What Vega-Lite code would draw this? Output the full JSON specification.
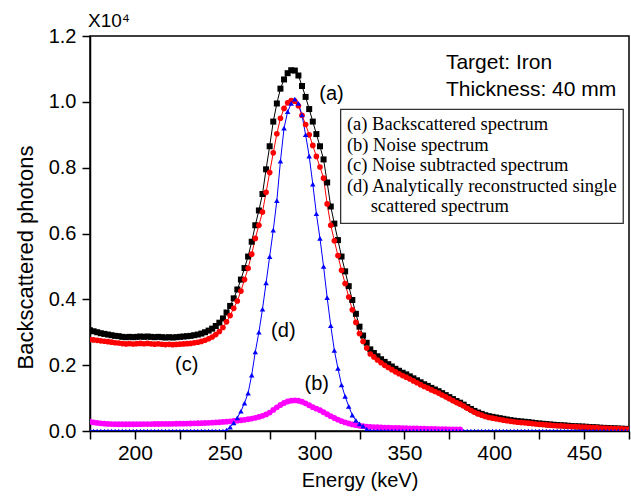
{
  "$schema": "https://vega.github.io/schema/vega-lite/v6.json",
  "width": 539,
  "height": 395,
  "autosize": {"type": "none"},
  "padding": {"left": 90, "top": 36, "right": 2, "bottom": 71},
  "background": "white",
  "config": {
    "view": {"stroke": "black", "strokeWidth": 1.5},
    "font": "Liberation Sans",
    "axis": {
      "grid": false,
      "domainColor": "black",
      "domainWidth": 1.5,
      "tickColor": "black",
      "tickWidth": 1.5,
      "tickSize": 8,
      "labelColor": "black",
      "titleColor": "black",
      "labelFont": "Liberation Sans",
      "titleFont": "Liberation Sans",
      "titleFontWeight": "normal",
      "labelFlush": false,
      "labelOverlap": false
    }
  },
  "title": {"text": "X10⁴", "anchor": "start", "frame": "group", "fontSize": 19, "fontWeight": "normal", "font": "Liberation Sans", "color": "black", "offset": -5, "dx": -2},
  "layer": [
    {
      "data": {"values": [
        {"E":175,"a":3060,"b":280,"c":2780,"d":0},
        {"E":177,"a":3030,"b":262,"c":2768,"d":0},
        {"E":179,"a":3000,"b":245,"c":2755,"d":0},
        {"E":181,"a":2970,"b":232,"c":2738,"d":0},
        {"E":183,"a":2950,"b":222,"c":2728,"d":0},
        {"E":185,"a":2930,"b":215,"c":2715,"d":0},
        {"E":187,"a":2910,"b":210,"c":2700,"d":0},
        {"E":189,"a":2890,"b":208,"c":2682,"d":0},
        {"E":191,"a":2880,"b":206,"c":2674,"d":0},
        {"E":193,"a":2860,"b":205,"c":2655,"d":0},
        {"E":195,"a":2850,"b":205,"c":2645,"d":0},
        {"E":197,"a":2860,"b":205,"c":2655,"d":0},
        {"E":199,"a":2850,"b":206,"c":2644,"d":0},
        {"E":201,"a":2860,"b":207,"c":2653,"d":0},
        {"E":203,"a":2870,"b":208,"c":2662,"d":0},
        {"E":205,"a":2860,"b":209,"c":2651,"d":0},
        {"E":207,"a":2870,"b":210,"c":2660,"d":0},
        {"E":209,"a":2860,"b":211,"c":2649,"d":0},
        {"E":211,"a":2850,"b":212,"c":2638,"d":0},
        {"E":213,"a":2860,"b":213,"c":2647,"d":0},
        {"E":215,"a":2850,"b":214,"c":2636,"d":0},
        {"E":217,"a":2840,"b":215,"c":2625,"d":0},
        {"E":219,"a":2850,"b":216,"c":2634,"d":0},
        {"E":221,"a":2840,"b":218,"c":2622,"d":0},
        {"E":223,"a":2850,"b":220,"c":2630,"d":0},
        {"E":225,"a":2860,"b":222,"c":2638,"d":0},
        {"E":227,"a":2870,"b":224,"c":2646,"d":0},
        {"E":229,"a":2880,"b":226,"c":2654,"d":0},
        {"E":231,"a":2890,"b":229,"c":2661,"d":0},
        {"E":233,"a":2910,"b":232,"c":2678,"d":0},
        {"E":235,"a":2930,"b":235,"c":2695,"d":0},
        {"E":237,"a":2960,"b":239,"c":2721,"d":0},
        {"E":239,"a":3000,"b":243,"c":2757,"d":0},
        {"E":241,"a":3050,"b":248,"c":2802,"d":0},
        {"E":243,"a":3110,"b":254,"c":2856,"d":0},
        {"E":245,"a":3190,"b":260,"c":2930,"d":0},
        {"E":247,"a":3290,"b":267,"c":3023,"d":0},
        {"E":249,"a":3420,"b":275,"c":3145,"d":0},
        {"E":251,"a":3600,"b":284,"c":3316,"d":30},
        {"E":253,"a":3800,"b":293,"c":3507,"d":120},
        {"E":255,"a":4030,"b":303,"c":3727,"d":250},
        {"E":257,"a":4300,"b":314,"c":3950,"d":400},
        {"E":259,"a":4600,"b":326,"c":4250,"d":600},
        {"E":261,"a":4950,"b":340,"c":4600,"d":850},
        {"E":263,"a":5300,"b":357,"c":4943,"d":1150},
        {"E":265,"a":5750,"b":377,"c":5373,"d":1700},
        {"E":267,"a":6250,"b":400,"c":5850,"d":2400},
        {"E":269,"a":6700,"b":428,"c":6250,"d":3000},
        {"E":271,"a":7200,"b":460,"c":6650,"d":3700},
        {"E":273,"a":7950,"b":505,"c":7250,"d":4500},
        {"E":275,"a":8650,"b":560,"c":7850,"d":5300},
        {"E":277,"a":9400,"b":640,"c":8450,"d":6100},
        {"E":279,"a":9950,"b":720,"c":9030,"d":7000},
        {"E":281,"a":10400,"b":790,"c":9500,"d":8200},
        {"E":283,"a":10680,"b":850,"c":9800,"d":9200},
        {"E":285,"a":10870,"b":895,"c":9970,"d":9700},
        {"E":287,"a":10960,"b":922,"c":10038,"d":9950},
        {"E":289,"a":10950,"b":930,"c":10020,"d":10080},
        {"E":291,"a":10800,"b":918,"c":9882,"d":9950},
        {"E":293,"a":10480,"b":888,"c":9592,"d":9600},
        {"E":295,"a":10150,"b":840,"c":9310,"d":9000},
        {"E":297,"a":9780,"b":782,"c":8998,"d":8350},
        {"E":299,"a":9400,"b":725,"c":8675,"d":7500},
        {"E":301,"a":9020,"b":678,"c":8342,"d":6600},
        {"E":303,"a":8650,"b":630,"c":8020,"d":5850},
        {"E":305,"a":8250,"b":570,"c":7680,"d":5000},
        {"E":307,"a":7550,"b":510,"c":6900,"d":4050},
        {"E":309,"a":6820,"b":450,"c":6250,"d":3200},
        {"E":311,"a":6300,"b":395,"c":5780,"d":2450},
        {"E":313,"a":5800,"b":345,"c":5330,"d":1900},
        {"E":315,"a":5300,"b":300,"c":4880,"d":1400},
        {"E":317,"a":4850,"b":262,"c":4480,"d":1050},
        {"E":319,"a":4400,"b":228,"c":4070,"d":750},
        {"E":321,"a":3980,"b":200,"c":3680,"d":480},
        {"E":323,"a":3560,"b":178,"c":3300,"d":320},
        {"E":325,"a":3170,"b":160,"c":2960,"d":220},
        {"E":327,"a":2900,"b":146,"c":2720,"d":150},
        {"E":329,"a":2680,"b":135,"c":2520,"d":60},
        {"E":331,"a":2480,"b":126,"c":2340,"d":10},
        {"E":333,"a":2370,"b":119,"c":2251,"d":0},
        {"E":335,"a":2270,"b":113,"c":2157,"d":0},
        {"E":337,"a":2180,"b":108,"c":2072,"d":0},
        {"E":339,"a":2100,"b":104,"c":1996,"d":0},
        {"E":341,"a":2030,"b":100,"c":1930,"d":0},
        {"E":343,"a":1960,"b":96,"c":1864,"d":0},
        {"E":345,"a":1890,"b":93,"c":1797,"d":0},
        {"E":347,"a":1830,"b":90,"c":1740,"d":0},
        {"E":349,"a":1770,"b":87,"c":1683,"d":0},
        {"E":351,"a":1720,"b":84,"c":1636,"d":0},
        {"E":353,"a":1660,"b":81,"c":1579,"d":0},
        {"E":355,"a":1600,"b":78,"c":1522,"d":0},
        {"E":357,"a":1540,"b":75,"c":1465,"d":0},
        {"E":359,"a":1480,"b":72,"c":1408,"d":0},
        {"E":361,"a":1420,"b":69,"c":1351,"d":0},
        {"E":363,"a":1370,"b":66,"c":1304,"d":0},
        {"E":365,"a":1310,"b":63,"c":1247,"d":0},
        {"E":367,"a":1260,"b":60,"c":1200,"d":0},
        {"E":369,"a":1210,"b":57,"c":1153,"d":0},
        {"E":371,"a":1150,"b":55,"c":1095,"d":0},
        {"E":373,"a":1090,"b":53,"c":1037,"d":0},
        {"E":375,"a":1030,"b":51,"c":979,"d":0},
        {"E":377,"a":970,"b":49,"c":921,"d":0},
        {"E":379,"a":910,"b":47,"c":863,"d":0},
        {"E":381,"a":860,"b":45,"c":815,"d":0},
        {"E":383,"a":800,"c":760,"d":0},
        {"E":385,"a":730,"c":690,"d":0},
        {"E":387,"a":670,"c":630,"d":0},
        {"E":389,"a":610,"c":570,"d":0},
        {"E":391,"a":560,"c":520,"d":0},
        {"E":393,"a":520,"c":480,"d":0},
        {"E":395,"a":480,"c":440,"d":0},
        {"E":397,"a":450,"c":410,"d":0},
        {"E":399,"a":430,"c":390,"d":0},
        {"E":401,"a":410,"c":370,"d":0},
        {"E":403,"a":390,"c":350,"d":0},
        {"E":405,"a":370,"c":330,"d":0},
        {"E":407,"a":350,"c":312,"d":0},
        {"E":409,"a":330,"c":294,"d":0},
        {"E":411,"a":315,"c":280,"d":0},
        {"E":413,"a":300,"c":266,"d":0},
        {"E":415,"a":290,"c":256,"d":0},
        {"E":417,"a":280,"c":247,"d":0},
        {"E":419,"a":270,"c":238,"d":0},
        {"E":421,"a":255,"c":225,"d":0},
        {"E":423,"a":240,"c":212,"d":0},
        {"E":425,"a":230,"c":203,"d":0},
        {"E":427,"a":220,"c":194,"d":0},
        {"E":429,"a":210,"c":185,"d":0},
        {"E":431,"a":200,"c":177,"d":0},
        {"E":433,"a":190,"c":168,"d":0},
        {"E":435,"a":180,"c":160,"d":0},
        {"E":437,"a":175,"c":156,"d":0},
        {"E":439,"a":170,"c":152,"d":0},
        {"E":441,"a":160,"c":143,"d":0},
        {"E":443,"a":150,"c":135,"d":0},
        {"E":445,"a":145,"c":131,"d":0},
        {"E":447,"a":140,"c":127,"d":0},
        {"E":449,"a":135,"c":122,"d":0},
        {"E":451,"a":130,"c":118,"d":0},
        {"E":453,"a":120,"c":109,"d":0},
        {"E":455,"a":115,"c":105,"d":0},
        {"E":457,"a":110,"c":101,"d":0},
        {"E":459,"a":100,"c":92,"d":0},
        {"E":461,"a":95,"c":88,"d":0},
        {"E":463,"a":90,"c":84,"d":0},
        {"E":465,"a":85,"c":80,"d":0},
        {"E":467,"a":80,"c":75,"d":0},
        {"E":469,"a":75,"c":71,"d":0},
        {"E":471,"a":70,"c":66,"d":0},
        {"E":473,"a":65,"c":62,"d":0},
        {"E":475,"a":60,"c":57,"d":0}
      ]},
      "transform": [
        {"fold": ["a", "b", "c", "d"], "as": ["s", "v"]},
        {"filter": "isValid(datum.v)"}
      ],
      "layer": [
        {
          "mark": {"type": "line", "strokeWidth": 1, "clip": true},
          "encoding": {
            "x": {"field": "E", "type": "quantitative", "scale": {"domain": [175, 475], "nice": false, "zero": false},
              "axis": {"title": "Energy (keV)", "values": [175, 200, 225, 250, 275, 300, 325, 350, 375, 400, 425, 450, 475],
                "labelExpr": "datum.value % 50 === 0 ? datum.label : ''",
                "encode": {"ticks": {"update": {"y2": {"signal": "datum.value % 50 === 0 ? 8 : 4"}}}},
                "labelFontSize": 21, "titleFontSize": 20,
                "labelPadding": 3, "titlePadding": 7}},
            "y": {"field": "v", "type": "quantitative", "scale": {"domain": [0, 12000], "nice": false},
              "axis": {"title": "Backscattered photons", "values": [0, 1000, 2000, 3000, 4000, 5000, 6000, 7000, 8000, 9000, 10000, 11000, 12000],
                "labelExpr": "datum.value % 2000 === 0 ? format(datum.value / 10000, '.1f') : ''",
                "encode": {"ticks": {"update": {"x2": {"signal": "datum.value % 2000 === 0 ? -8 : -4"}}}},
                "labelFontSize": 20, "titleFontSize": 22,
                "labelPadding": 6, "titlePadding": 11, "titleY": 221}},
            "color": {"field": "s", "type": "nominal", "scale": {"domain": ["a", "b", "c", "d"], "range": ["#000000", "#ff00ff", "#ff0000", "#0000ff"]}, "legend": null},
            "order": {"field": "E", "type": "quantitative"}
          }
        },
        {
          "mark": {"type": "point", "filled": true, "opacity": 1, "clip": true, "strokeWidth": 0},
          "encoding": {
            "x": {"field": "E", "type": "quantitative"},
            "y": {"field": "v", "type": "quantitative"},
            "color": {"field": "s", "type": "nominal", "legend": null},
            "shape": {"field": "s", "type": "nominal", "scale": {"domain": ["a", "b", "c", "d"], "range": ["square", "circle", "circle", "triangle-up"]}, "legend": null},
            "size": {"field": "s", "type": "nominal", "scale": {"domain": ["a", "b", "c", "d"], "range": [36, 30, 45, 40]}, "legend": null},
            "order": {"field": "s", "type": "nominal"}
          }
        }
      ]
    },
    {
      "data": {"values": [{}]},
      "layer": [
        {"mark": {"type": "text", "text": "(a)", "fontSize": 20, "font": "Liberation Sans", "color": "black", "align": "center", "baseline": "middle"},
         "encoding": {"x": {"datum": 309.4, "type": "quantitative"}, "y": {"datum": 10238, "type": "quantitative"}}},
        {"mark": {"type": "text", "text": "(b)", "fontSize": 20, "font": "Liberation Sans", "color": "black", "align": "center", "baseline": "middle"},
         "encoding": {"x": {"datum": 301.2, "type": "quantitative"}, "y": {"datum": 1428, "type": "quantitative"}}},
        {"mark": {"type": "text", "text": "(c)", "fontSize": 20, "font": "Liberation Sans", "color": "black", "align": "center", "baseline": "middle"},
         "encoding": {"x": {"datum": 228.8, "type": "quantitative"}, "y": {"datum": 2005, "type": "quantitative"}}},
        {"mark": {"type": "text", "text": "(d)", "fontSize": 20, "font": "Liberation Sans", "color": "black", "align": "center", "baseline": "middle"},
         "encoding": {"x": {"datum": 282.6, "type": "quantitative"}, "y": {"datum": 3044, "type": "quantitative"}}},
        {"mark": {"type": "text", "text": ["Target: Iron", "Thickness: 40 mm"], "lineHeight": 27, "fontSize": 21, "font": "Liberation Sans", "color": "black", "align": "left", "baseline": "alphabetic"},
         "encoding": {"x": {"datum": 373.1, "type": "quantitative"}, "y": {"datum": 10997, "type": "quantitative"}}},
        {"mark": {"type": "rect", "fill": "white", "stroke": "#333333", "strokeWidth": 1.3},
         "encoding": {"x": {"datum": 314.5, "type": "quantitative"}, "x2": {"datum": 471.8}, "y": {"datum": 9773, "type": "quantitative"}, "y2": {"datum": 6310}}},
        {"mark": {"type": "text", "text": ["(a) Backscattered spectrum", "(b) Noise spectrum", "(c) Noise subtracted spectrum", "(d) Analytically reconstructed single"], "lineHeight": 20.6, "fontSize": 18.5, "font": "Liberation Serif", "color": "black", "align": "left", "baseline": "alphabetic"},
         "encoding": {"x": {"datum": 318.0, "type": "quantitative"}, "y": {"datum": 9144, "type": "quantitative"}}},
        {"mark": {"type": "text", "text": "scattered spectrum", "fontSize": 18.5, "font": "Liberation Serif", "color": "black", "align": "left", "baseline": "alphabetic"},
         "encoding": {"x": {"datum": 331.2, "type": "quantitative"}, "y": {"datum": 6641, "type": "quantitative"}}}
      ]
    }
  ]
}
